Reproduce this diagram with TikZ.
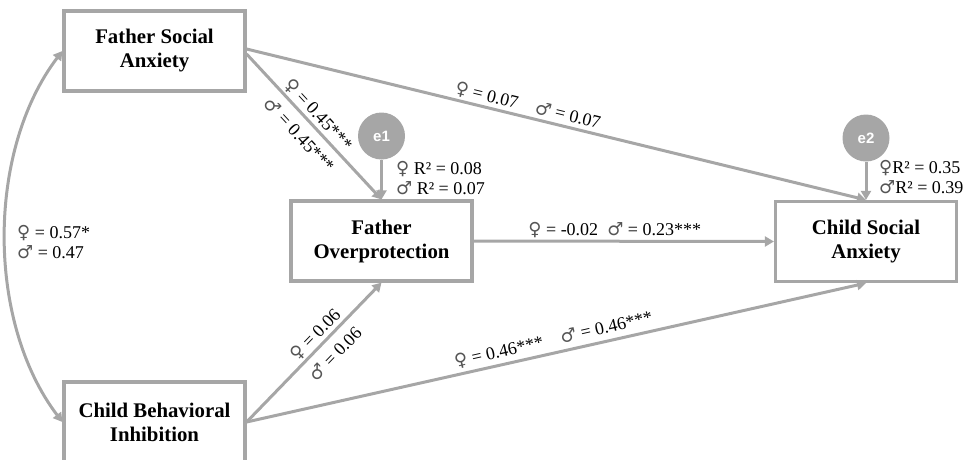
\documentclass[tikz,border=0pt]{standalone}
\usepackage{fontspec}
\setmainfont{Liberation Serif}
\newfontfamily\errfont{Liberation Sans}
\newfontfamily\sexfont{DejaVu Sans}
\usetikzlibrary{arrows.meta}
\definecolor{pathGray}{HTML}{A6A6A6}
\definecolor{sexGray}{HTML}{555555}
\newcommand{\fem}{{\sexfont\color{sexGray}♀}}
\newcommand{\mal}{{\sexfont\color{sexGray}♂}}

\begin{document}
\begin{tikzpicture}[x=1pt, y=1pt,
    box/.style={rectangle, draw=pathGray, line width=3.2pt, fill=white,
                minimum width=181pt, minimum height=80pt, inner sep=0pt,
                align=center, font=\fontsize{20.8}{24}\selectfont\bfseries},
    errc/.style={circle, fill=pathGray, minimum size=47pt, inner sep=0pt,
                 text=white, font=\errfont\fontsize{15}{15}\selectfont\bfseries},
    link/.style={draw=pathGray, line width=3pt, -{Triangle[length=9pt, width=10pt]}},
    lbl/.style={font=\fontsize{18}{20}\selectfont, inner sep=2pt},
  ]
    \useasboundingbox (0,0) rectangle (978,-459);
    \clip (0,0) rectangle (978,-459);

    % ─── Variables ───
    \node[box] (fsa) at (154.5,-51) {Father Social\\Anxiety};
    \node[box] (cbi) at (154.5,-422) {Child Behavioral\\Inhibition};
    \node[box] (fo) at (381.5,-241) {Father\\Overprotection};
    \node[box] (csa) at (866,-241.5) {Child Social\\Anxiety};

    % ─── Error terms ───
    \node[errc] (e1) at (381.5,-136) {e1};
    \node[errc] (e2) at (866,-138) {e2};
    \draw[link] (e1.south) -- (fo.north);
    \draw[link] (e2.south) -- (csa.north);
    \node[lbl, anchor=west, align=left] (r1) at (394,-178) {\fem{} R² = 0.08\\\mal{} R² = 0.07};
    \node[lbl, anchor=west, align=left] (r2) at (877,-177) {\fem R² = 0.35\\\mal R² = 0.39};

    % ─── Covariance ───
    \draw[draw=pathGray, line width=3pt, {Triangle[length=9pt, width=10pt]}-{Triangle[length=9pt, width=10pt]}]
      (fsa.west) .. controls +(-76,-100) and +(-76,100) .. (cbi.west);
    \node[lbl, anchor=west, align=left] (cov) at (15,-242) {\fem{} = 0.57*\\\mal{} = 0.47};

    % ─── Paths ───
    \draw[link] ([yshift=-3pt]fsa.east) --
      node[lbl, sloped, above, pos=0.47] {\fem{} = 0.45***}
      node[lbl, sloped, below=6pt, pos=0.48] {\mal{} = 0.45***} (fo.north);
    \draw[link] ([yshift=2pt]fsa.east) --
      node[lbl, sloped, above, pos=0.45] {\fem{} = 0.07\quad \mal{} = 0.07} (csa.north);
    \draw[link] (fo.east) --
      node[lbl, above, pos=0.47] {\fem{} = -0.02\enspace \mal{} = 0.23***} (csa.west);
    \draw[link] (cbi.east) --
      node[lbl, sloped, above, pos=0.57] {\fem{} = 0.06}
      node[lbl, sloped, below=6pt, pos=0.57] {\mal{} = 0.06} (fo.south);
    \draw[link] (cbi.east) --
      node[lbl, sloped, above=2pt, pos=0.5] {\fem{} = 0.46***\quad \mal{} = 0.46***} (csa.south);
  \end{tikzpicture}
\end{document}
